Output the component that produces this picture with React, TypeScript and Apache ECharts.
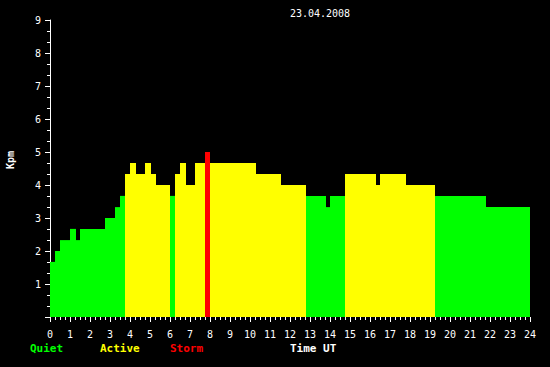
import React, { useEffect, useRef } from "react";
import * as echarts from "echarts";

const titleText = "23.04.2008";
const yAxisTitle = "Kpm";
const xAxisTitle = "Time UT";
const legendLabels = ["Quiet", "Active", "Storm"];
const legendColors = ["#00ff00", "#ffff00", "#ff0000"];

// start hour (UT) of each constant-Kp segment; each runs to the next start (last to 24)
const hourStarts = [
  0, 0.25, 0.5, 1.0, 1.3, 1.5, 2.75, 3.25, 3.5, 3.75, 4.0, 4.3, 4.75, 5.05, 5.3,
  6.0, 6.25, 6.5, 6.8, 7.25, 7.75, 8.0, 10.3, 11.55, 12.8, 13.8, 14.0, 14.75,
  16.3, 16.5, 17.8, 19.25, 21.8,
];
const kpValues = [
  1.67, 2.0, 2.33, 2.67, 2.33, 2.67, 3.0, 3.33, 3.67, 4.33, 4.67, 4.33, 4.67,
  4.33, 4.0, 3.67, 4.33, 4.67, 4.0, 4.67, 5.0, 4.67, 4.33, 4.0, 3.67, 3.33,
  3.67, 4.33, 4.0, 4.33, 4.0, 3.67, 3.33,
];
const dayEnd = 24;

function colorFor(v: number) {
  if (v >= 4.9) return legendColors[2];
  if (v >= 3.9) return legendColors[1];
  return legendColors[0];
}

export default function App() {
  const ref = useRef<HTMLDivElement>(null);
  useEffect(() => {
    if (!ref.current) return;
    const chart = echarts.init(ref.current, undefined, { renderer: "svg" });
    const data = hourStarts.map((s, i) => [
      s,
      i + 1 < hourStarts.length ? hourStarts[i + 1] : dayEnd,
      kpValues[i],
    ]);
    const mono = "DejaVu Sans Mono";
    chart.setOption({
      animation: false,
      backgroundColor: "#000000",
      grid: { left: 50, right: 20, top: 20, bottom: 50 },
      xAxis: {
        type: "value",
        min: 0,
        max: 24,
        interval: 1,
        axisLine: { show: false },
        axisTick: { show: true, length: 5, lineStyle: { color: "#ffffff", width: 1 } },
        minorTick: { show: true, splitNumber: 4, length: 3, lineStyle: { color: "#ffffff", width: 1 } },
        splitLine: { show: false },
        axisLabel: { color: "#ffffff", fontFamily: mono, fontSize: 10, margin: 12 },
      },
      yAxis: {
        type: "value",
        min: 0,
        max: 9,
        interval: 1,
        axisLine: { show: true, lineStyle: { color: "#ffffff", width: 1 } },
        axisTick: { show: true, length: 5, lineStyle: { color: "#ffffff", width: 1 } },
        minorTick: { show: true, splitNumber: 3, length: 3, lineStyle: { color: "#ffffff", width: 1 } },
        splitLine: { show: false },
        axisLabel: {
          color: "#ffffff",
          fontFamily: mono,
          fontSize: 10,
          margin: 9,
          formatter: (v: number) => (v === 0 ? "" : String(v)),
        },
      },
      series: [
        {
          type: "custom",
          data,
          z: 1,
          renderItem: (params: any, api: any) => {
            const s = api.value(0);
            const e = api.value(1);
            const v = api.value(2);
            const p0 = api.coord([s, v]);
            const p1 = api.coord([e, 0]);
            return {
              type: "rect",
              shape: { x: p0[0], y: p0[1], width: p1[0] - p0[0], height: p1[1] - p0[1] },
              style: { fill: colorFor(v) },
            };
          },
        },
      ],
      graphic: [
        {
          type: "text",
          x: 320,
          y: 13,
          style: { text: titleText, fill: "#ffffff", font: `10px ${mono}`, textAlign: "center", textVerticalAlign: "middle" },
        },
        {
          type: "text",
          x: 10,
          y: 160,
          rotation: Math.PI / 2,
          style: { text: yAxisTitle, fill: "#ffffff", font: `bold 10px ${mono}`, textAlign: "center", textVerticalAlign: "middle" },
        },
        ...legendLabels.map((t, i) => ({
          type: "text",
          x: 30 + i * 70,
          y: 348.5,
          style: { text: t, fill: legendColors[i], font: `bold 11px ${mono}`, textAlign: "left", textVerticalAlign: "middle" },
        })),
        {
          type: "text",
          x: 290,
          y: 348.5,
          style: { text: xAxisTitle, fill: "#ffffff", font: `bold 11px ${mono}`, textAlign: "left", textVerticalAlign: "middle" },
        },
      ],
    });
    return () => chart.dispose();
  }, []);
  return (
    <div
      ref={ref}
      style={{ position: "fixed", left: 0, top: 0, width: 550, height: 367 }}
    />
  );
}
